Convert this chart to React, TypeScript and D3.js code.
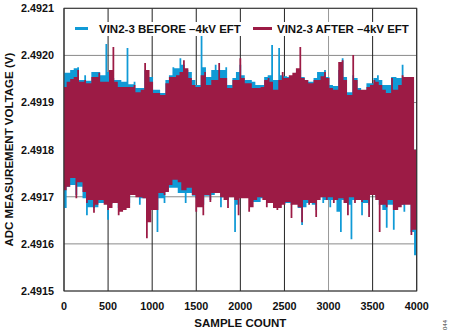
import React from 'react';
import * as d3 from 'd3';

const xTicks = [0, 500, 1000, 1500, 2000, 2500, 3000, 3500, 4000];
const yTicks = [2.4915, 2.4916, 2.4917, 2.4918, 2.4919, 2.492, 2.4921];
const yTickLabels = ['2.4915', '2.4916', '2.4917', '2.4918', '2.4919', '2.4920', '2.4921'];
const sampleStep = 20;

const seriesNames = ['VIN2-3 BEFORE \u20134kV EFT', 'VIN2-3 AFTER \u20134kV EFT'];

// decimated readings, one every 20 samples (0..4000), alternating local high / local low
const beforeValues = [
  2.491963, 2.491676, 2.491963, 2.491721, 2.491969, 2.491725, 2.491973, 2.491704, 2.491975, 2.491721,
  2.491948, 2.491697, 2.491958, 2.491661, 2.491946, 2.491678, 2.491965, 2.491676, 2.491965, 2.491678,
  2.491965, 2.491687, 2.491958, 2.491687, 2.492024, 2.491651, 2.491965, 2.491685, 2.491952, 2.491693,
  2.491948, 2.491676, 2.491948, 2.491678, 2.491944, 2.491683, 2.492016, 2.491687, 2.491939, 2.491708,
  2.491944, 2.491704, 2.491931, 2.491683, 2.491931, 2.491697, 2.491969, 2.491693, 2.491954, 2.491683,
  2.491954, 2.491683, 2.491927, 2.491625, 2.491927, 2.491697, 2.491920, 2.491687, 2.491948, 2.491714,
  2.491958, 2.491719, 2.491975, 2.491719, 2.491973, 2.491708, 2.491994, 2.491708, 2.491980, 2.491687,
  2.491969, 2.491708, 2.491965, 2.491702, 2.491948, 2.491697, 2.491937, 2.491687, 2.492043, 2.491683,
  2.491975, 2.491702, 2.491954, 2.491693, 2.491969, 2.491704, 2.491980, 2.491710, 2.491969, 2.491678,
  2.491969, 2.491699, 2.491975, 2.491693, 2.491937, 2.491708, 2.491952, 2.491625, 2.491965, 2.491683,
  2.491980, 2.491704, 2.491958, 2.491704, 2.491948, 2.491704, 2.491948, 2.491689, 2.491944, 2.491689,
  2.491937, 2.491689, 2.491937, 2.491697, 2.491954, 2.491693, 2.491958, 2.491687, 2.492022, 2.491687,
  2.491948, 2.491678, 2.492016, 2.491683, 2.491958, 2.491685, 2.491956, 2.491687, 2.491954, 2.491683,
  2.491954, 2.491687, 2.491965, 2.491676, 2.491969, 2.491640, 2.491954, 2.491678, 2.491948, 2.491687,
  2.491944, 2.491683, 2.491952, 2.491672, 2.491965, 2.491708, 2.491965, 2.491687, 2.491969, 2.491693,
  2.491954, 2.491678, 2.491937, 2.491693, 2.491935, 2.491668, 2.491969, 2.491625, 2.491994, 2.491693,
  2.491954, 2.491683, 2.491922, 2.491610, 2.491958, 2.491693, 2.491952, 2.491697, 2.491931, 2.491661,
  2.491922, 2.491687, 2.491941, 2.491683, 2.491941, 2.491708, 2.491952, 2.491699, 2.491958, 2.491683,
  2.491948, 2.491672, 2.491937, 2.491634, 2.491937, 2.491683, 2.491954, 2.491630, 2.491954, 2.491678,
  2.491952, 2.491683, 2.491980, 2.491668, 2.491944, 2.491687, 2.491948, 2.491625, 2.491948, 2.491576,
  2.491693,
];

const afterValues = [
  2.491933, 2.491714, 2.491944, 2.491721, 2.491950, 2.491740, 2.491954, 2.491697, 2.491969, 2.491731,
  2.491944, 2.491710, 2.491948, 2.491687, 2.491941, 2.491693, 2.491954, 2.491666, 2.491954, 2.491683,
  2.491963, 2.491693, 2.491944, 2.491683, 2.491944, 2.491672, 2.491969, 2.491676, 2.492018, 2.491687,
  2.491944, 2.491661, 2.491933, 2.491668, 2.491933, 2.491672, 2.491933, 2.491676, 2.491933, 2.491704,
  2.491937, 2.491699, 2.491922, 2.491699, 2.491927, 2.491697, 2.491984, 2.491612, 2.491969, 2.491646,
  2.491944, 2.491672, 2.491920, 2.491672, 2.491920, 2.491708, 2.491916, 2.491704, 2.491941, 2.491710,
  2.491954, 2.491725, 2.491954, 2.491736, 2.491958, 2.491731, 2.491965, 2.491714, 2.491990, 2.491714,
  2.491973, 2.491719, 2.491952, 2.491704, 2.491937, 2.491668, 2.491933, 2.491678, 2.491958, 2.491661,
  2.491965, 2.491704, 2.491937, 2.491689, 2.491948, 2.491708, 2.491948, 2.491708, 2.491984, 2.491699,
  2.491952, 2.491693, 2.491952, 2.491676, 2.491931, 2.491699, 2.491948, 2.491693, 2.491948, 2.491661,
  2.491994, 2.491697, 2.491952, 2.491697, 2.491941, 2.491668, 2.491941, 2.491678, 2.491931, 2.491693,
  2.491931, 2.491699, 2.491933, 2.491693, 2.491948, 2.491678, 2.491952, 2.491687, 2.491944, 2.491676,
  2.491927, 2.491672, 2.491948, 2.491676, 2.491965, 2.491683, 2.491952, 2.491689, 2.491958, 2.491655,
  2.491963, 2.491683, 2.491973, 2.491678, 2.492018, 2.491646, 2.491952, 2.491693, 2.491948, 2.491683,
  2.491941, 2.491687, 2.491948, 2.491657, 2.491948, 2.491693, 2.491956, 2.491699, 2.491965, 2.491693,
  2.491952, 2.491699, 2.491931, 2.491687, 2.491927, 2.491693, 2.491986, 2.491697, 2.491990, 2.491687,
  2.491948, 2.491661, 2.491916, 2.491699, 2.492001, 2.491687, 2.491948, 2.491693, 2.491927, 2.491689,
  2.491927, 2.491693, 2.491933, 2.491657, 2.491937, 2.491704, 2.491948, 2.491693, 2.491944, 2.491625,
  2.491937, 2.491683, 2.491927, 2.491678, 2.491920, 2.491693, 2.491952, 2.491672, 2.491927, 2.491672,
  2.491937, 2.491678, 2.491958, 2.491683, 2.491954, 2.491683, 2.491954, 2.491619, 2.491954, 2.491630,
  2.491799,
];

const BLUE = '#109ad6';
const RED = '#9c1b45';
const FONT = '"Liberation Sans", Arial, sans-serif';

// For each decimated reading, the span covered by the dense trace in its pixel column:
// from the reading itself to the nearer of its neighbours.
function spans(values: number[]) {
  return values.map((v, k) => {
    const nb = [values[k - 1], values[k + 1]].filter((n) => n !== undefined) as number[];
    if (k % 2 === 0) {
      return { k, hi: v, lo: Math.max(...nb) };
    }
    return { k, hi: Math.min(...nb), lo: v };
  });
}

export default function App() {
  const W = 450;
  const H = 331;
  const left = 64;
  const right = 416.7;
  const top = 8.3;
  const bottom = 291;

  const x = d3.scaleLinear().domain([0, 4000]).range([left, right]);
  const y = d3.scaleLinear().domain([2.4915, 2.4921]).range([bottom, top]);

  const area = d3
    .area<{ k: number; hi: number; lo: number }>()
    .x((d) => x(d.k * sampleStep))
    .y0((d) => y(d.lo))
    .y1((d) => y(d.hi))
    .curve(d3.curveStep);

  const gridDark = (t: number) => t !== 3000;

  return (
    <svg
      width={W}
      height={H}
      style={{ position: 'absolute', left: 0, top: 0, background: '#fff' }}
      fontFamily={FONT}
    >
      <rect x={0} y={0} width={W} height={H} fill="#fff" />
      {/* grid */}
      {yTicks.map((t) => (
        <line key={'gy' + t} x1={left} x2={right} y1={y(t)} y2={y(t)} stroke="#8a8a8a" strokeWidth={1} />
      ))}
      {xTicks.map((t) => (
        <line
          key={'gx' + t}
          x1={x(t)}
          x2={x(t)}
          y1={top}
          y2={bottom}
          stroke={gridDark(t) ? '#222' : '#999'}
          strokeWidth={1}
        />
      ))}
      {/* data */}
      <clipPath id="plotclip">
        <rect x={left} y={top} width={right - left} height={bottom - top} />
      </clipPath>
      <g clipPath="url(#plotclip)">
        <path d={area(spans(beforeValues)) || ''} fill={BLUE} />
        <path d={area(spans(afterValues)) || ''} fill={RED} />
      </g>
      {/* frame */}
      <rect x={left} y={top} width={right - left} height={bottom - top} fill="none" stroke="#333" strokeWidth={1} />
      {/* legend */}
      <rect x={72} y={22} width={341} height={14} fill="#fff" />
      <line x1={75} x2={88} y1={28.5} y2={28.5} stroke={BLUE} strokeWidth={3} />
      <text x={99} y={33.3} fontSize={11.5} fontWeight="bold" fill="#111">
        {seriesNames[0]}
      </text>
      <line x1={253} x2={272} y1={28.5} y2={28.5} stroke={RED} strokeWidth={3} />
      <text x={277} y={33.3} fontSize={11.5} fontWeight="bold" fill="#111">
        {seriesNames[1]}
      </text>
      {/* y tick labels */}
      {yTicks.map((t, i) => (
        <text
          key={'yl' + t}
          x={54}
          y={y(t)}
          dy="0.36em"
          textAnchor="end"
          fontSize={10.8}
          fontWeight="bold"
          fill="#111"
        >
          {yTickLabels[i]}
        </text>
      ))}
      {/* x tick labels */}
      {xTicks.map((t) => (
        <text key={'xl' + t} x={x(t)} y={309.5} textAnchor="middle" fontSize={10.8} fontWeight="bold" fill="#111">
          {t}
        </text>
      ))}
      {/* axis titles */}
      <text x={(left + right) / 2} y={326.5} textAnchor="middle" fontSize={11.5} fontWeight="bold" fill="#111">
        SAMPLE COUNT
      </text>
      <text
        transform={`translate(13.3, ${(top + bottom) / 2}) rotate(-90)`}
        textAnchor="middle"
        fontSize={11.5}
        fontWeight="bold"
        fill="#111"
      >
        ADC MEASUREMENT VOLTAGE (V)
      </text>
      <text transform="translate(447, 325) rotate(-90)" textAnchor="middle" fontSize={6} fill="#333">
        044
      </text>
    </svg>
  );
}
